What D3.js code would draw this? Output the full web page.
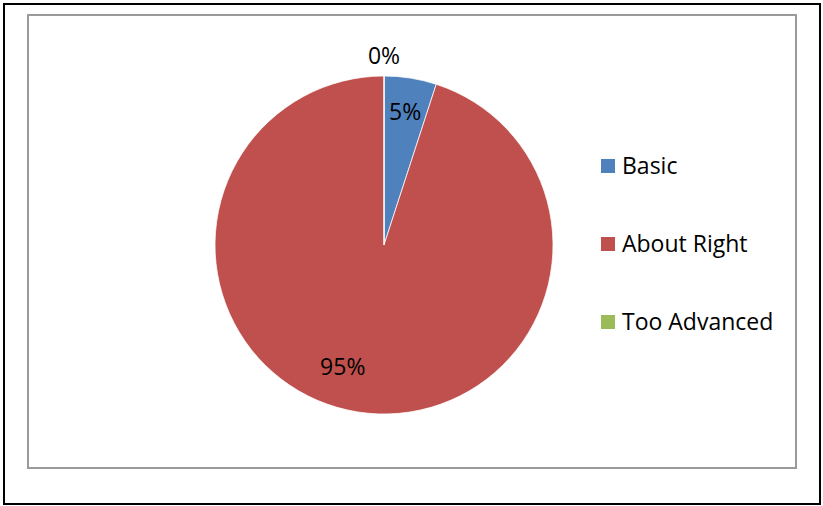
<!DOCTYPE html>
<html>
<head>
<meta charset="utf-8">
<script src="https://cdn.jsdelivr.net/npm/d3@7"></script>
<style>
  html, body { margin: 0; padding: 0; background: #fff; }
  svg { display: block; }
  text { font-family: "Open Sans", "Noto Sans", sans-serif; fill: #000; }
</style>
</head>
<body>
<svg id="chart" width="823" height="506"></svg>
<script>
// Responses on course level
const categories = ["Basic", "About Right", "Too Advanced"];
const percents = [5, 95, 0];
const sliceColors = ["#4F81BD", "#C0504D", "#9BBB59"];

const svg = d3.select("#chart");
const W = 823, H = 506;

// outer frame
svg.append("rect")
  .attr("x", 4).attr("y", 4).attr("width", W - 7).attr("height", H - 6)
  .attr("fill", "#fff").attr("stroke", "#000").attr("stroke-width", 2);

// chart area border
svg.append("rect")
  .attr("x", 28).attr("y", 15).attr("width", 768).attr("height", 453)
  .attr("fill", "#fff").attr("stroke", "#9a9a9a").attr("stroke-width", 2);

const data = categories.map((c, i) => ({ name: c, value: percents[i] }));
const color = d3.scaleOrdinal().domain(categories).range(sliceColors);

const cx = 384, cy = 245, r = 169;
const pie = d3.pie().value(d => d.value).sort(null);
const arcs = pie(data);
const arc = d3.arc().innerRadius(0).outerRadius(r);

const g = svg.append("g").attr("transform", `translate(${cx},${cy})`);
g.selectAll("path.slice")
  .data(arcs)
  .join("path")
  .attr("class", "slice")
  .attr("d", arc)
  .attr("fill", d => color(d.data.name))
  .attr("stroke", "#fff")
  .attr("stroke-width", 0.75);

// percentage labels: inside for visible slices, outside for empty ones
const fmt = d => d3.format(".0f")(d.data.value) + "%";
const inner = d3.arc().innerRadius(r * 0.8).outerRadius(r * 0.8);
const outer = d3.arc().innerRadius(r + 20).outerRadius(r + 20);
g.selectAll("text.pct")
  .data(arcs)
  .join("text")
  .attr("class", "pct")
  .attr("transform", d => {
    let p;
    if (d.endAngle - d.startAngle < 1e-6) p = outer.centroid(d);
    else if (d.data.value > 50) {
      // large slice: label sits lower-left of its centroid
      const a = (d.startAngle + d.endAngle) / 2 + 0.17;
      p = [Math.sin(a) * r * 0.76, -Math.cos(a) * r * 0.76];
    } else p = inner.centroid(d);
    return `translate(${p[0]},${p[1]})`;
  })
  .attr("text-anchor", "middle")
  .attr("dy", "0.35em")
  .attr("font-size", 23)
  .text(fmt);

// legend
const legend = svg.append("g").attr("transform", "translate(601,0)");
const ly = d3.scalePoint().domain(categories).range([166, 322]);
const items = legend.selectAll("g.item")
  .data(categories)
  .join("g")
  .attr("class", "item")
  .attr("transform", d => `translate(0,${ly(d)})`);
items.append("rect")
  .attr("x", 0).attr("y", -7).attr("width", 14).attr("height", 14)
  .attr("fill", d => color(d));
items.append("text")
  .attr("x", 21).attr("y", 0).attr("dy", "0.36em")
  .attr("font-size", 23)
  .text(d => d);
</script>
</body>
</html>
